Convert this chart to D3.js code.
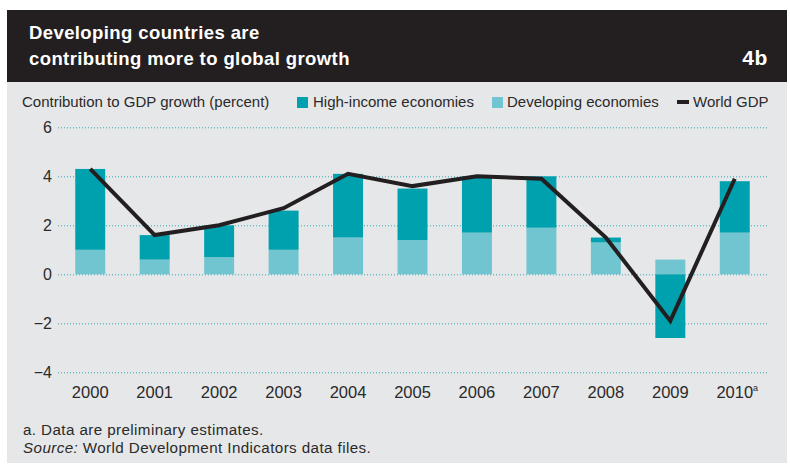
<!DOCTYPE html>
<html>
<head>
<meta charset="utf-8">
<script src="https://cdn.jsdelivr.net/npm/d3@7"></script>
<style>
  body { margin: 0; background: #fff; }
  svg { display: block; font-family: "Liberation Sans", Arial, sans-serif; }
  .grid line { stroke: #2fa9b5; stroke-width: 1; stroke-dasharray: 1,2; }
  .grid text, .xaxis text { fill: #2b2a2b; }
</style>
</head>
<body>
<svg></svg>
<script>
const years = ['2000','2001','2002','2003','2004','2005','2006','2007','2008','2009','2010'];
const highIncome = [3.3, 1.0, 1.3, 1.6, 2.6, 2.1, 2.3, 2.1, 0.2, -2.6, 2.1];
const developing = [1.0, 0.6, 0.7, 1.0, 1.5, 1.4, 1.7, 1.9, 1.3, 0.6, 1.7];
const worldGDP = [4.3, 1.6, 2.0, 2.7, 4.1, 3.6, 4.0, 3.9, 1.5, -1.9, 3.9];
const yTicks = [-4, -2, 0, 2, 4, 6];
const yearNotes = ['', '', '', '', '', '', '', '', '', '', 'a'];

const width = 790, height = 466;
const colHigh = '#00a1ae', colDev = '#71c5d0', colLine = '#231f20';

const svg = d3.select('svg').attr('width', width).attr('height', height);

// panel + header
svg.append('rect').attr('x', 7).attr('y', 82).attr('width', 780).attr('height', 381).attr('fill', '#e6e7e8');
svg.append('rect').attr('x', 7).attr('y', 10).attr('width', 780).attr('height', 72).attr('fill', '#231f20');

const title = svg.append('g')
    .attr('fill', '#fff')
    .attr('font-weight', 'bold')
    .attr('font-size', 18.5)
    .attr('letter-spacing', '0.4px');
title.append('text').attr('x', 29).attr('y', 39).text('Developing countries are');
title.append('text').attr('x', 29).attr('y', 65).text('contributing more to global growth');
title.append('text').attr('x', 768).attr('y', 65).attr('text-anchor', 'end')
    .attr('font-size', 21).attr('letter-spacing', '0.6px').text('4b');

// scales
const x = d3.scaleBand().domain(years).range([58, 767]).paddingInner(0.535).paddingOuter(0.2675);
const y = d3.scaleLinear().domain([-4, 6]).range([372.3, 127.3]);

// grid / y axis
const gy = svg.append('g')
    .attr('class', 'grid')
    .attr('transform', 'translate(58,0)')
    .call(d3.axisLeft(y).tickValues(yTicks).tickSize(-709).tickPadding(6)
        .tickFormat(d => d < 0 ? '\u2212' + Math.abs(d) : d));
gy.select('.domain').remove();
gy.selectAll('text').attr('font-size', 16).attr('font-family', '"Liberation Sans", Arial, sans-serif');

// stacked bars
const rows = years.map((yr, i) => ({ year: yr, developing: developing[i], high: highIncome[i] }));
const series = d3.stack().keys(['developing', 'high']).offset(d3.stackOffsetDiverging)(rows);
const colors = { developing: colDev, high: colHigh };

svg.append('g').selectAll('g').data(series).join('g')
    .attr('fill', s => colors[s.key])
    .selectAll('rect').data(s => s).join('rect')
        .attr('x', d => x(d.data.year))
        .attr('width', x.bandwidth())
        .attr('y', d => y(Math.max(d[0], d[1])))
        .attr('height', d => Math.abs(y(d[0]) - y(d[1])));

// world GDP line
const line = d3.line()
    .x((d, i) => x(years[i]) + x.bandwidth() / 2)
    .y(d => y(d));
svg.append('path')
    .datum(worldGDP)
    .attr('d', line)
    .attr('fill', 'none')
    .attr('stroke', colLine)
    .attr('stroke-width', 4)
    .attr('stroke-linejoin', 'miter');

// x axis labels
const gx = svg.append('g')
    .attr('class', 'xaxis')
    .attr('transform', 'translate(0,372)')
    .call(d3.axisBottom(x).tickSize(0).tickPadding(14));
gx.select('.domain').remove();
gx.selectAll('text')
    .attr('font-size', 16.5)
    .attr('font-family', '"Liberation Sans", Arial, sans-serif')
    .each(function(d, i) {
        if (yearNotes[i]) {
            d3.select(this).append('tspan')
                .attr('font-size', 9)
                .attr('dy', '-0.7em')
                .text(yearNotes[i]);
        }
    });
gx.selectAll('text').filter((d, i) => yearNotes[i]).attr('dx', '0.15em');

// legend
const legend = svg.append('g').attr('font-size', 15).attr('fill', '#2b2a2b');
legend.append('text').attr('x', 22).attr('y', 107).text('Contribution to GDP growth (percent)');
legend.append('rect').attr('x', 297).attr('y', 97).attr('width', 11).attr('height', 11).attr('fill', colHigh);
legend.append('text').attr('x', 313).attr('y', 107).text('High-income economies');
legend.append('rect').attr('x', 492).attr('y', 97).attr('width', 11).attr('height', 11).attr('fill', colDev);
legend.append('text').attr('x', 507).attr('y', 107).text('Developing economies');
legend.append('rect').attr('x', 677).attr('y', 100).attr('width', 12).attr('height', 4).attr('fill', colLine);
legend.append('text').attr('x', 693).attr('y', 107).text('World GDP');

// footnotes
const notes = svg.append('g').attr('font-size', 15.2).attr('letter-spacing', '0.4px').attr('fill', '#2b2a2b');
notes.append('text').attr('x', 23).attr('y', 435).text('a. Data are preliminary estimates.');
const src = notes.append('text').attr('x', 23).attr('y', 453);
src.append('tspan').attr('font-style', 'italic').text('Source:');
src.append('tspan').text(' World Development Indicators data files.');
</script>
</body>
</html>
